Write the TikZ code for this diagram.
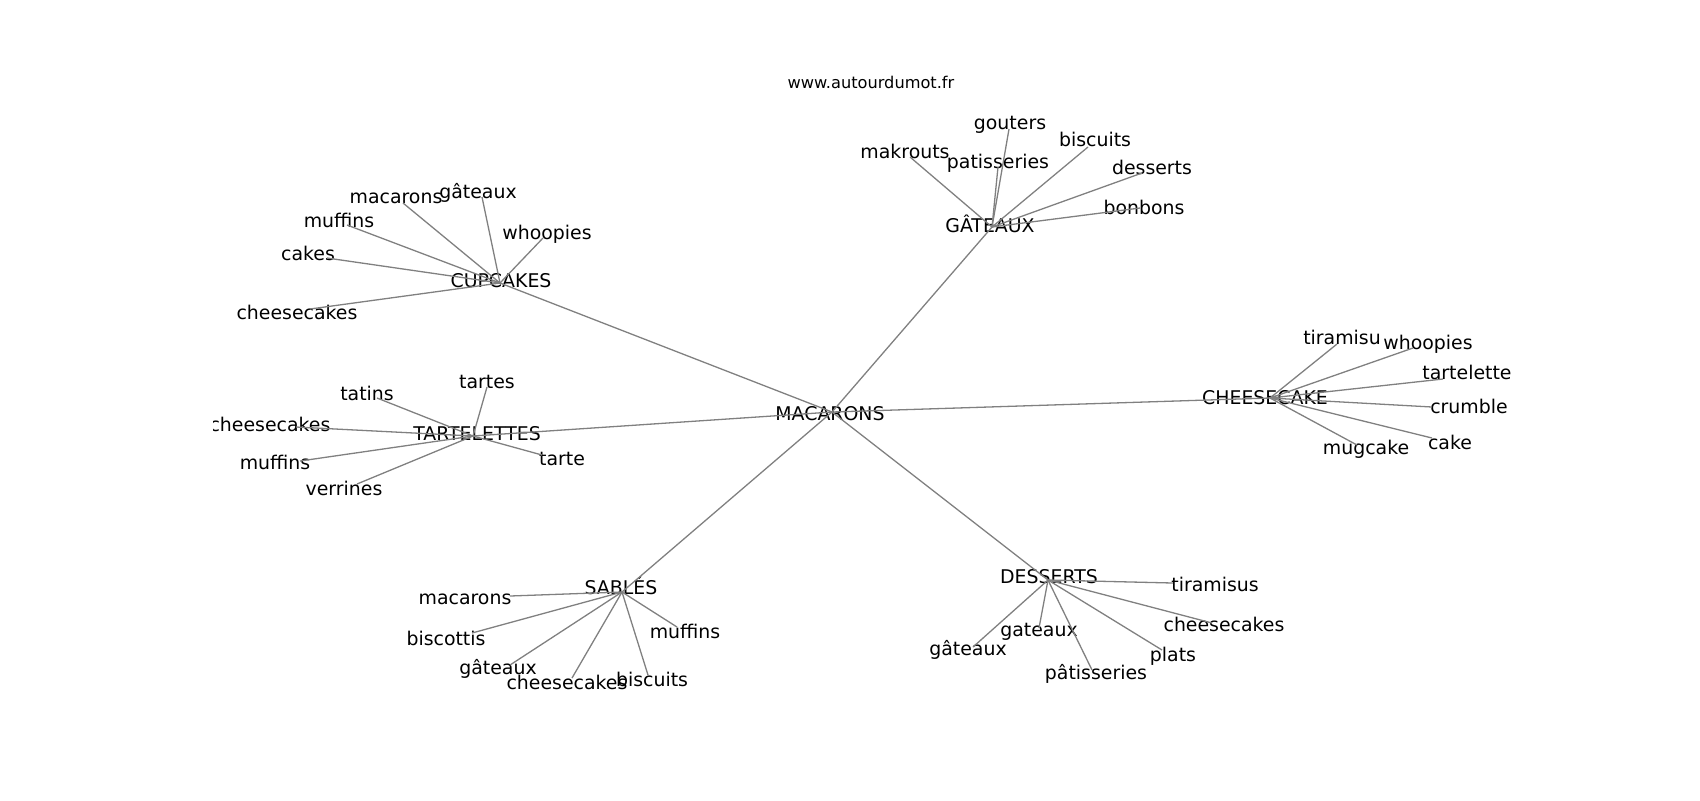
\documentclass[tikz,border=0pt]{standalone}
\usepackage{fontspec}
\setmainfont{DejaVu Sans}

\begin{document}
\begin{tikzpicture}[x=0.5pt, y=-0.5pt,
    word/.style={inner sep=0pt, font=\fontsize{9.45}{11}\selectfont, text height=6.9pt, text depth=0pt},
    link/.style={draw=gray, line width=0.65pt}]

    \useasboundingbox (0,0) rectangle (1700,800);

    \node[inner sep=0pt, font=\fontsize{8.1}{10}\selectfont, text height=5.9pt, text depth=0pt] (site) at (871,83) {www.autourdumot.fr};

    \begin{scope}
    \clip (213,96) rectangle (1530,712);

    % centre
    \node[word] (mac) at (830,414) {MACARONS};
    \coordinate (mac-c) at (832,412);

    % hubs
    \node[word] (gat) at (990,226) {GÂTEAUX};
    \coordinate (gat-c) at (992,227);
    \node[word] (cup) at (501,281) {CUPCAKES};
    \coordinate (cup-c) at (500,283);
    \node[word] (tart) at (477,434) {TARTELETTES};
    \coordinate (tart-c) at (473,436);
    \node[word] (chs) at (1265,398) {CHEESECAKE};
    \coordinate (chs-c) at (1270,398);
    \node[word] (sab) at (621,588) {SABLÉS};
    \coordinate (sab-c) at (622,592);
    \node[word] (des) at (1049,577) {DESSERTS};
    \coordinate (des-c) at (1048,580);

    % GÂTEAUX
    \node[word] (gat-1) at (1010,123) {gouters};
    \coordinate (gat-1-c) at (1009,129);
    \node[word] (gat-2) at (905,152) {makrouts};
    \coordinate (gat-2-c) at (910,157);
    \node[word] (gat-3) at (998,162) {patisseries};
    \coordinate (gat-3-c) at (998,167);
    \node[word] (gat-4) at (1095,140) {biscuits};
    \coordinate (gat-4-c) at (1088,147);
    \node[word] (gat-5) at (1152,168) {desserts};
    \coordinate (gat-5-c) at (1142,173);
    \node[word] (gat-6) at (1144,208) {bonbons};
    \coordinate (gat-6-c) at (1140,208);

    % CUPCAKES
    \node[word] (cup-1) at (396,197) {macarons};
    \coordinate (cup-1-c) at (403,203);
    \node[word] (cup-2) at (478,192) {gâteaux};
    \coordinate (cup-2-c) at (482,197);
    \node[word] (cup-3) at (339,221) {muffins};
    \coordinate (cup-3-c) at (347,225);
    \node[word] (cup-4) at (547,233) {whoopies};
    \coordinate (cup-4-c) at (543,238);
    \node[word] (cup-5) at (308,254) {cakes};
    \coordinate (cup-5-c) at (327,258);
    \node[word] (cup-6) at (297,313) {cheesecakes};
    \coordinate (cup-6-c) at (310,309);

    % TARTELETTES
    \node[word] (tart-1) at (487,382) {tartes};
    \coordinate (tart-1-c) at (487,387);
    \node[word] (tart-2) at (367,394) {tatins};
    \coordinate (tart-2-c) at (377,398);
    \node[word] (tart-3) at (270,425) {cheesecakes};
    \coordinate (tart-3-c) at (296,427);
    \node[word] (tart-4) at (275,463) {muffins};
    \coordinate (tart-4-c) at (300,461);
    \node[word] (tart-5) at (344,489) {verrines};
    \coordinate (tart-5-c) at (357,484);
    \node[word] (tart-6) at (562,459) {tarte};
    \coordinate (tart-6-c) at (542,455);

    % CHEESECAKE
    \node[word] (chs-1) at (1342,338) {tiramisu};
    \coordinate (chs-1-c) at (1337,344);
    \node[word] (chs-2) at (1428,343) {whoopies};
    \coordinate (chs-2-c) at (1413,348);
    \node[word] (chs-3) at (1467,373) {tartelette};
    \coordinate (chs-3-c) at (1443,379);
    \node[word] (chs-4) at (1469,407) {crumble};
    \coordinate (chs-4-c) at (1432,407);
    \node[word] (chs-5) at (1450,443) {cake};
    \coordinate (chs-5-c) at (1432,438);
    \node[word] (chs-6) at (1366,448) {mugcake};
    \coordinate (chs-6-c) at (1357,445);

    % SABLÉS
    \node[word] (sab-1) at (465,598) {macarons};
    \coordinate (sab-1-c) at (510,596);
    \node[word] (sab-2) at (446,639) {biscottis};
    \coordinate (sab-2-c) at (472,633);
    \node[word] (sab-3) at (498,668) {gâteaux};
    \coordinate (sab-3-c) at (510,665);
    \node[word] (sab-4) at (567,683) {cheesecakes};
    \coordinate (sab-4-c) at (572,678);
    \node[word] (sab-5) at (652,680) {biscuits};
    \coordinate (sab-5-c) at (648,675);
    \node[word] (sab-6) at (685,632) {muffins};
    \coordinate (sab-6-c) at (677,627);

    % DESSERTS
    \node[word] (des-1) at (1215,585) {tiramisus};
    \coordinate (des-1-c) at (1173,583);
    \node[word] (des-2) at (1224,625) {cheesecakes};
    \coordinate (des-2-c) at (1212,623);
    \node[word] (des-3) at (1173,655) {plats};
    \coordinate (des-3-c) at (1162,650);
    \node[word] (des-4) at (1096,673) {pâtisseries};
    \coordinate (des-4-c) at (1092,670);
    \node[word] (des-5) at (1039,630) {gateaux};
    \coordinate (des-5-c) at (1039,628);
    \node[word] (des-6) at (968,649) {gâteaux};
    \coordinate (des-6-c) at (973,647);

    \foreach \h in {gat, cup, tart, chs, sab, des} {
        \draw[link] (mac-c) -- (\h-c);
        \foreach \i in {1,...,6}
            \draw[link] (\h-c) -- (\h-\i-c);
    }
    \end{scope}

\end{tikzpicture}
\end{document}
